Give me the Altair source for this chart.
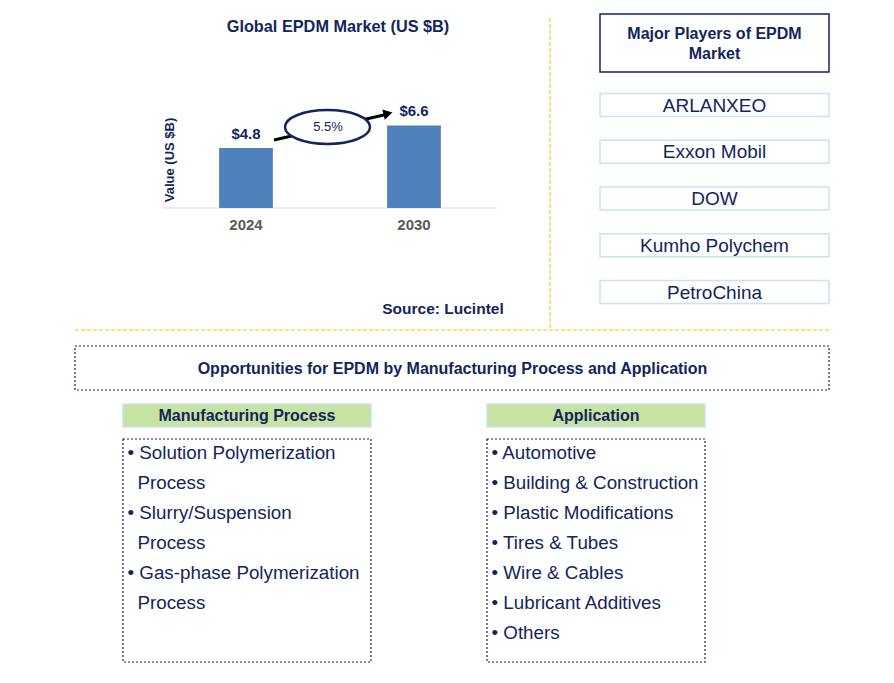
import altair as alt
import pandas as pd

# ---------------- data ----------------
years = ["2024", "2030"]
values = [4.8, 6.6]
cagr = "5.5%"
chart_title = "Global EPDM Market (US $B)"
y_title = "Value (US $B)"
source_text = "Source: Lucintel"
players_title = "Major Players of EPDM\nMarket"
players = ["ARLANXEO", "Exxon Mobil", "DOW", "Kumho Polychem", "PetroChina"]
opp_title = "Opportunities for EPDM by Manufacturing Process and Application"
seg_titles = ["Manufacturing Process", "Application"]
processes = ["Solution Polymerization Process", "Slurry/Suspension Process",
             "Gas-phase Polymerization Process"]
applications = ["Automotive", "Building & Construction", "Plastic Modifications",
                "Tires & Tubes", "Wire & Cables", "Lubricant Additives", "Others"]

# ---------------- style ----------------
NAVY = "#13255c"
BAR = "#4f81bd"
GOLD = "#ffc000"
LIGHTBLUE = "#c6e4f5"
GREEN = "#c6e3a2"
FONT = "Liberation Sans, Arial, sans-serif"
OFF = 8


def X(p):
    return p - OFF


def Y(p):
    return p - OFF


one = pd.DataFrame({"a": [0]})
layers = []


def text(t, x, y, size, bold=False, color=NAVY, align="center", font=FONT, **kw):
    layers.append(
        alt.Chart(one).mark_text(
            align=align, baseline="middle", fontSize=size, font=font,
            fontWeight="bold" if bold else "normal", color=color, **kw
        ).encode(x=alt.value(X(x)), y=alt.value(Y(y)), text=alt.value(t))
    )


def rect(x0, x1, y0, y1, stroke=None, fill=None, sw=1.0, dash=None):
    kw = {}
    if dash is not None:
        kw["strokeDash"] = dash
    if stroke is not None:
        kw["stroke"] = stroke
        kw["strokeWidth"] = sw
    layers.append(
        alt.Chart(one).mark_rect(fill=fill if fill else "transparent", **kw).encode(
            x=alt.value(X(x0)), x2=alt.value(X(x1)),
            y=alt.value(Y(y0)), y2=alt.value(Y(y1)))
    )


def rule(x0, y0, x1, y1, color, sw=1.0, dash=None):
    kw = {}
    if dash is not None:
        kw["strokeDash"] = dash
    layers.append(
        alt.Chart(one).mark_rule(color=color, strokeWidth=sw, **kw).encode(
            x=alt.value(X(x0)), x2=alt.value(X(x1)),
            y=alt.value(Y(y0)), y2=alt.value(Y(y1)))
    )


# ---------------- bar chart ----------------
bar_df = pd.DataFrame({"year": years, "value": values,
                       "label": ["$" + f"{v:.1f}" for v in values]})
xenc = alt.X("year:N", axis=None,
             scale=alt.Scale(range=[X(162), X(498)], paddingInner=0.68, paddingOuter=0.34))
yenc = alt.Y("value:Q", axis=None,
             scale=alt.Scale(domain=[0, 8], range=[Y(208), Y(108)]))
base = alt.Chart(bar_df)
bars = base.mark_bar(color=BAR).encode(x=xenc, y=yenc)
vlabels = base.mark_text(baseline="middle", dy=-14.5, fontSize=15, fontWeight="bold",
                         font=FONT, color=NAVY).encode(x=xenc, y=yenc, text="label:N")
ylabels = base.mark_text(baseline="middle", fontSize=15, fontWeight="bold",
                         font=FONT, color="#595959").encode(
    x=xenc, y=alt.value(Y(225)), text="year:N")

text(chart_title, 338, 27, 16.3, bold=True)
rule(163, 208, 497, 208, "#d9d9d9", 1.2)
text(y_title, 170, 160, 13, bold=True, angle=270)

# CAGR arrow + ellipse
rule(274, 140, 386, 114.5, "black", 3)
layers.append(alt.Chart(one).mark_point(shape="triangle-right", filled=True, color="black",
                                        size=110, angle=347, opacity=1).encode(
    x=alt.value(X(388)), y=alt.value(Y(113.5))))
ellipse = "M -1 0 A 1 0.4 0 1 1 1 0 A 1 0.4 0 1 1 -1 0 Z"
layers.append(alt.Chart(one).mark_point(shape=ellipse, size=7225, fill="white",
                                        fillOpacity=1, stroke=NAVY, strokeWidth=2.5,
                                        strokeOpacity=1).encode(
    x=alt.value(X(327.5)), y=alt.value(Y(127))))
text(cagr, 328, 127, 13)

text(source_text, 443, 309, 15.5, bold=True)

# separators
rule(550, 18, 550, 328, GOLD, 1, [4, 2])
rule(75, 330, 830, 330, GOLD, 1, [4, 2])

# players
rect(600, 829, 14, 72, stroke=NAVY, sw=1.5)
layers.append(alt.Chart(one).mark_text(align="center", baseline="middle", fontSize=16,
                                       fontWeight="bold", font=FONT, color=NAVY,
                                       lineBreak="\n", lineHeight=20).encode(
    x=alt.value(X(714.5)), y=alt.value(Y(33.5)), text=alt.value(players_title)))
for i, p in enumerate(players):
    cy = 105 + i * 46.75
    rect(600, 829, cy - 11.5, cy + 11.5, stroke=LIGHTBLUE, sw=1.5)
    text(p, 714.5, cy + 0.5, 19)

# opportunities
rect(75, 829, 346, 390, stroke=NAVY, sw=1.2, dash=[2, 2])
text(opp_title, 452.5, 368.5, 16, bold=True)

seg_boxes = [(123, 371), (487, 705)]
for (x0, x1), t in zip(seg_boxes, seg_titles):
    rect(x0, x1, 404, 427, stroke=LIGHTBLUE, fill=GREEN, sw=1.5)
    text(t, (x0 + x1) / 2, 416, 16, bold=True)
    rect(x0, x1, 439, 662, stroke=NAVY, sw=1.2, dash=[2, 2])

# process list (wrapped)
row = 0
for item in processes:
    first, last = item.rsplit(" ", 1)
    text("\u2022 " + first, 127.5, 452.5 + row * 30, 18.8, align="left")
    row += 1
    text(last, 137.5, 452.5 + row * 30, 18.8, align="left")
    row += 1

for i, item in enumerate(applications):
    text("\u2022 " + item, 491.5, 452.5 + i * 30, 18.8, align="left")

deco = alt.layer(*layers)
barlayer = alt.layer(bars, vlabels, ylabels)

chart = alt.layer(deco, barlayer).resolve_scale(x="independent", y="independent").properties(
    width=878, height=667, padding=0, autosize=alt.AutoSizeParams(type="none")
).configure_view(stroke=None)

chart.save("out.html", embed_options={"renderer": "svg", "actions": False})
